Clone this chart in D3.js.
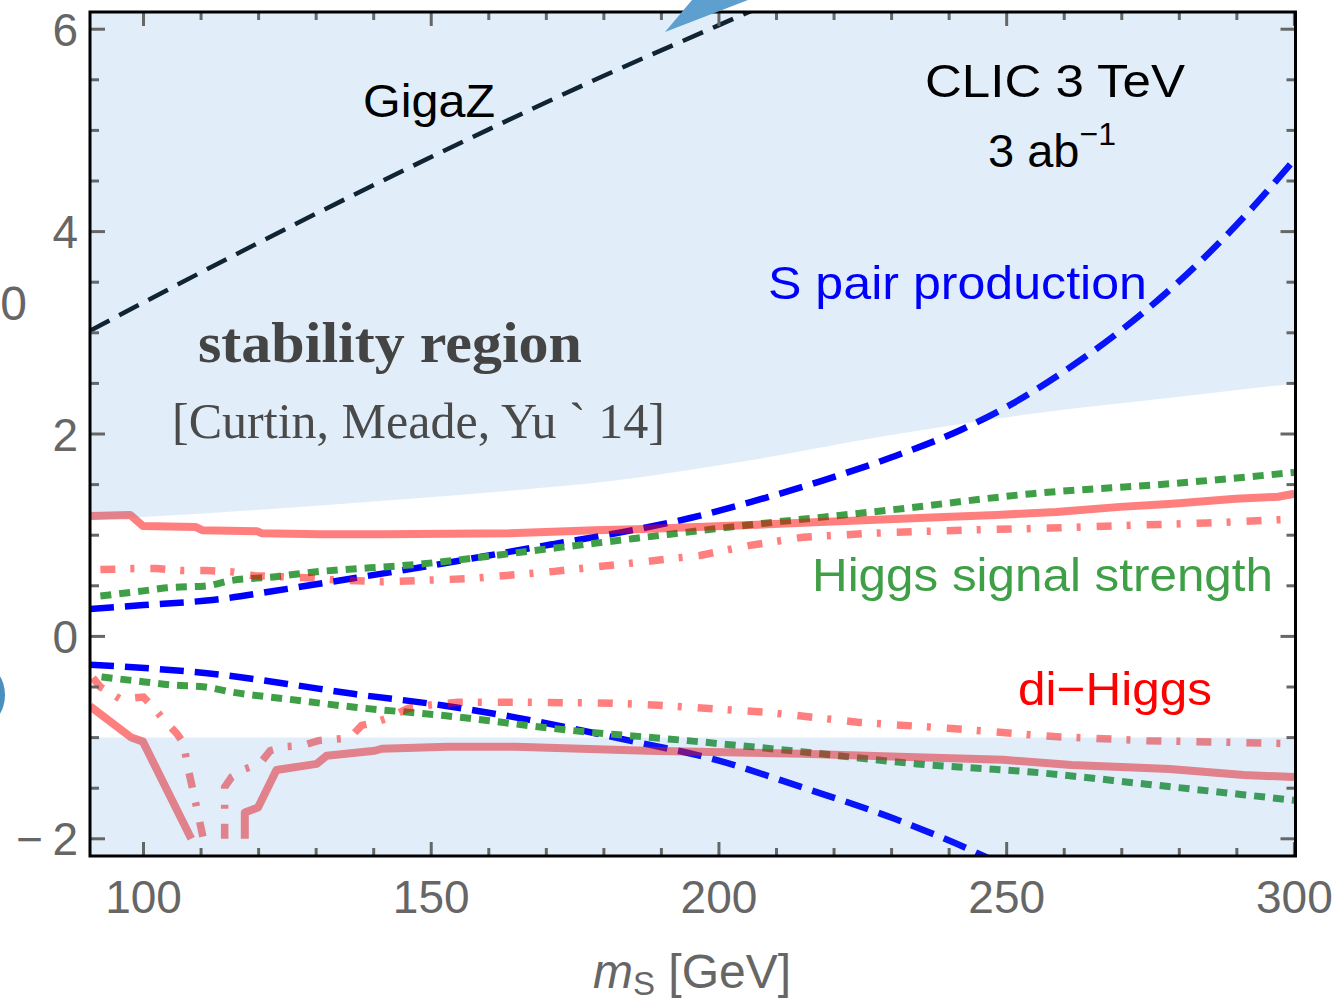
<!DOCTYPE html>
<html>
<head>
<meta charset="utf-8">
<script src="https://cdn.jsdelivr.net/npm/d3@7"></script>
<style>
  body { margin: 0; background: white; }
  svg { display: block; }
</style>
</head>
<body>
<div id="container"></div>
<script>
/* DATA  (m_S in GeV, coupling value) */
const gigaZ = [[90.7,3.02],[100,3.30],[120,3.89],[140,4.46],[160,5.01],[180,5.54],[200,6.04],[206,6.19]];

const pairProdUp = [[90.7,0.27],[100,0.31],[112,0.36],[125,0.47],[137,0.58],[149,0.69],[160,0.80],[171,0.91],
  [185,1.05],[195,1.17],[205,1.32],[218,1.54],[230,1.77],[242,2.04],[251,2.30],[260,2.62],[270,3.03],
  [280,3.51],[290,4.07],[300,4.71]];
const pairProdLow = [[90.7,-0.28],[102,-0.32],[113.6,-0.38],[125,-0.47],[136.7,-0.57],[151.8,-0.68],
  [164.6,-0.80],[184.5,-1.03],[199.5,-1.22],[214.4,-1.49],[230.4,-1.80],[246,-2.17],[250,-2.28]];

const higgsUp = [[92.5,0.40],[100,0.45],[104,0.48],[111,0.50],[115,0.55],[123,0.59],[127.1,0.62],[149.1,0.72],
  [171,0.87],[185.7,0.97],[205,1.10],[229.9,1.25],[254.4,1.41],[278.8,1.51],[300,1.62]];
const higgsLow = [[92.7,-0.40],[100.2,-0.45],[104.9,-0.48],[110.7,-0.50],[115.3,-0.55],[125.1,-0.62],
  [136.7,-0.70],[151.8,-0.78],[174.5,-0.93],[194.5,-1.03],[214.4,-1.14],[234.4,-1.26],[254.3,-1.34],
  [274.3,-1.46],[300,-1.62]];

const diHiggsUp = [[90.7,1.19],[97.7,1.20],[99.9,1.09],[109.1,1.08],[110.2,1.05],[119.7,1.04],[120.5,1.02],
  [130.7,1.01],[141.7,1.01],[163.7,1.02],[178.4,1.05],[185.7,1.06],[205.4,1.10],[217.7,1.13],[239.1,1.18],
  [248.3,1.20],[258.6,1.23],[269.7,1.28],[278.8,1.31],[289.8,1.36],[297.2,1.38],[300,1.41]];
const diHiggsLowA = [[90.7,-0.69],[97.9,-1.00],[99.9,-1.04],[108.3,-2.0]];
const diHiggsLowB = [[117.6,-2.0],[117.6,-1.74],[119.9,-1.69],[123.1,-1.32],[130.1,-1.26],[131.8,-1.18],
  [140.2,-1.13],[141.4,-1.11],[152.9,-1.09],[164.6,-1.09],[187.5,-1.13],[214.4,-1.16],[231.4,-1.19],
  [249.4,-1.22],[261.3,-1.27],[278.3,-1.31],[291.2,-1.37],[300,-1.39]];

const diHiggs2Up = [[92.5,0.66],[98.3,0.67],[102.3,0.67],[106.4,0.65],[111,0.65],[115.1,0.64],[119.1,0.60],
  [123.8,0.59],[128.4,0.58],[133,0.56],[141.7,0.54],[156.4,0.57],[171,0.64],[185.7,0.73],[196.7,0.80],
  [205.4,0.90],[214.6,0.98],[226.8,1.02],[242.1,1.05],[257.4,1.07],[272.7,1.10],[284.9,1.12],[300,1.16]];
const diHiggs2LowA = [[91.2,-0.41],[92.5,-0.50],[96,-0.62],[100,-0.60],[101.7,-0.70],[103.6,-0.83],
  [105.8,-0.96],[107,-1.06],[107.5,-1.24],[108.7,-1.55],[110.4,-2.0]];
const diHiggs2LowB = [[114.1,-2.0],[114.1,-1.49],[115.3,-1.39],[117.6,-1.31],[120.2,-1.26],[122,-1.13],
  [124.6,-1.09],[127.5,-1.08],[130.4,-1.03],[134.4,-1.01],[135.9,-1.00],[137.9,-0.88],[140.2,-0.85],
  [142.8,-0.80],[146,-0.71],[149.5,-0.68],[154.6,-0.65],[164.6,-0.65],[181.5,-0.66],[189.5,-0.68],
  [208.4,-0.75],[224.4,-0.85],[240.4,-0.91],[258.3,-0.99],[274.3,-1.03],[300,-1.06]];

// stability region: above the upper edge, and below -1
const stabilityEdge = [[90.7,1.15],[100,1.18],[119.7,1.25],[141.7,1.34],[163.7,1.44],[182,1.54],
  [205.4,1.74],[229.9,1.99],[254.4,2.20],[278.8,2.36],[300,2.50]];
const stabilityLow = [[90.7,-1],[300,-1]];

const xTicks = [100, 150, 200, 250, 300];
const xTickLabels = ["100", "150", "200", "250", "300"];
const yTicks = [-2, 0, 2, 4, 6];
const yTickLabels = ["\u2212\u20092", "0", "2", "4", "6"];

/* CONSTANTS */
const width = 1339, height = 1005;
const frame = { left: 90, right: 1295.5, top: 12, bottom: 856 };

/* SCALES */
const xScale = d3.scaleLinear().domain([90.7, 300]).range([90, 1294.4]);
const yScale = d3.scaleLinear().domain([-2.17, 6.17]).range([856, 12]);

const svg = d3.select("#container")
  .append("svg")
  .attr("width", width)
  .attr("height", height);

svg.append("defs").append("clipPath").attr("id", "plotclip")
  .append("rect")
  .attr("x", frame.left).attr("y", frame.top)
  .attr("width", frame.right - frame.left).attr("height", frame.bottom - frame.top);

const plot = svg.append("g").attr("clip-path", "url(#plotclip)");

const smooth = d3.line().x(d => xScale(d[0])).y(d => yScale(d[1])).curve(d3.curveMonotoneX);
const poly = d3.line().x(d => xScale(d[0])).y(d => yScale(d[1]));

// GigaZ
plot.append("path").attr("d", smooth(gigaZ))
  .attr("fill", "none").attr("stroke", "#0a1218").attr("stroke-width", 4.5)
  .attr("stroke-dasharray", "22,11");

// S pair production
[pairProdUp, pairProdLow].forEach(s => {
  plot.append("path").attr("d", smooth(s))
    .attr("fill", "none").attr("stroke", "#0000ff").attr("stroke-width", 6.5)
    .attr("stroke-dasharray", "24,11");
});

// Higgs signal strength
[higgsUp, higgsLow].forEach(s => {
  plot.append("path").attr("d", smooth(s))
    .attr("fill", "none").attr("stroke", "#3f9f47").attr("stroke-width", 7)
    .attr("stroke-dasharray", "11,8");
});

// di-Higgs (solid and dot-dash), half transparent red
[diHiggsUp, diHiggsLowA, diHiggsLowB].forEach(s => {
  plot.append("path").attr("d", poly(s))
    .attr("fill", "none").attr("stroke", "red").attr("stroke-opacity", 0.5)
    .attr("stroke-width", 8).attr("stroke-linejoin", "round");
});
[diHiggs2Up, diHiggs2LowA, diHiggs2LowB].forEach(s => {
  plot.append("path").attr("d", poly(s))
    .attr("fill", "none").attr("stroke", "red").attr("stroke-opacity", 0.5)
    .attr("stroke-width", 7.5).attr("stroke-dasharray", "15,15,4,16");
});

// stability region shading, laid over the curves
const fillColor = "rgba(55,142,215,0.15)";
plot.append("path")
  .attr("d", d3.area().x(d => xScale(d[0])).y0(yScale(6.17)).y1(d => yScale(d[1])).curve(d3.curveMonotoneX)(stabilityEdge))
  .attr("fill", fillColor);
plot.append("path")
  .attr("d", d3.area().x(d => xScale(d[0])).y0(yScale(-2.17)).y1(d => yScale(d[1]))(stabilityLow))
  .attr("fill", fillColor);

/* TICKS */
const tickColor = "#666";
const ticks = svg.append("g").attr("stroke", tickColor).attr("stroke-width", 3);
const xMinor = d3.range(100, 301, 10);
const yMinor = d3.range(-2, 6.01, 0.5);
xMinor.forEach(v => {
  const len = xTicks.includes(v) ? 14 : 8;
  const x = xScale(v);
  ticks.append("line").attr("x1", x).attr("x2", x).attr("y1", frame.bottom).attr("y2", frame.bottom - len);
  ticks.append("line").attr("x1", x).attr("x2", x).attr("y1", frame.top).attr("y2", frame.top + len);
});
yMinor.forEach(v => {
  const len = yTicks.includes(v) ? 15 : 9;
  const y = yScale(v);
  ticks.append("line").attr("x1", frame.left).attr("x2", frame.left + len).attr("y1", y).attr("y2", y);
  ticks.append("line").attr("x1", frame.right).attr("x2", frame.right - len).attr("y1", y).attr("y2", y);
});

// frame
svg.append("rect")
  .attr("x", frame.left).attr("y", frame.top)
  .attr("width", frame.right - frame.left).attr("height", frame.bottom - frame.top)
  .attr("fill", "none").attr("stroke", "#000").attr("stroke-width", 3);

/* TICK LABELS */
const labelFont = "'Liberation Sans', Arial, Helvetica, sans-serif";
svg.selectAll("text.xlab")
  .data(xTicks)
  .join("text")
  .attr("class", "xlab")
  .attr("x", d => xScale(d))
  .attr("y", 913)
  .attr("text-anchor", "middle")
  .attr("font-family", labelFont).attr("font-size", 46).attr("fill", tickColor)
  .text((d, i) => xTickLabels[i]);

svg.selectAll("text.ylab")
  .data(yTicks)
  .join("text")
  .attr("class", "ylab")
  .attr("x", 78)
  .attr("y", d => yScale(d) + 16.5)
  .attr("text-anchor", "end")
  .attr("font-family", labelFont).attr("font-size", 46).attr("fill", tickColor)
  .text((d, i) => yTickLabels[i]);

// cut-off axis title remnant on the left
svg.append("text").attr("x", 27).attr("y", 320).attr("text-anchor", "end")
  .attr("font-family", labelFont).attr("font-size", 48).attr("fill", tickColor).text("0");

// x axis title
const xt = svg.append("text").attr("x", 692).attr("y", 988).attr("text-anchor", "middle")
  .attr("font-family", labelFont).attr("font-size", 48).attr("fill", tickColor);
xt.append("tspan").attr("font-style", "italic").text("m");
xt.append("tspan").attr("font-size", 33).attr("dy", 7).text("S");
xt.append("tspan").attr("dy", -7).text(" [GeV]");

/* ANNOTATIONS */
function label(txt, x, y, len, color, size) {
  return svg.append("text").attr("x", x).attr("y", y)
    .attr("font-family", labelFont).attr("font-size", size || 47).attr("fill", color)
    .attr("textLength", len).attr("lengthAdjust", "spacingAndGlyphs")
    .text(txt);
}
label("GigaZ", 363, 117, 132, "#000");
label("CLIC 3 TeV", 925, 97, 260, "#000");
const ab = svg.append("text").attr("x", 988).attr("y", 167)
  .attr("font-family", labelFont).attr("font-size", 47).attr("fill", "#000");
ab.append("tspan").text("3 ab");
ab.append("tspan").attr("font-size", 32).attr("dy", -22).text("\u22121");
label("S pair production", 768, 299, 379, "#0000ff");
label("Higgs signal strength", 812, 591, 461, "#3f9f47");
label("di\u2212Higgs", 1018, 705, 194, "#ff0000");

const serif = "'Liberation Serif', 'Times New Roman', serif";
svg.append("text").attr("x", 198).attr("y", 362)
  .attr("font-family", serif).attr("font-weight", "bold").attr("font-size", 58).attr("fill", "#444")
  .attr("textLength", 384).attr("lengthAdjust", "spacingAndGlyphs")
  .text("stability region");
svg.append("text").attr("x", 172).attr("y", 438)
  .attr("font-family", serif).attr("font-size", 50).attr("fill", "#4a4a4a")
  .attr("textLength", 493).attr("lengthAdjust", "spacingAndGlyphs")
  .text("[Curtin, Meade, Yu ` 14]");

/* EDGE FRAGMENTS FROM NEIGHBOURING PANELS */
svg.append("path").attr("d", "M665,32 L692,0 L748,0 Z").attr("fill", "#5d9fcf");
svg.append("ellipse").attr("cx", -18).attr("cy", 695).attr("rx", 23).attr("ry", 30).attr("fill", "#4b8fbf");
</script>
</body>
</html>
